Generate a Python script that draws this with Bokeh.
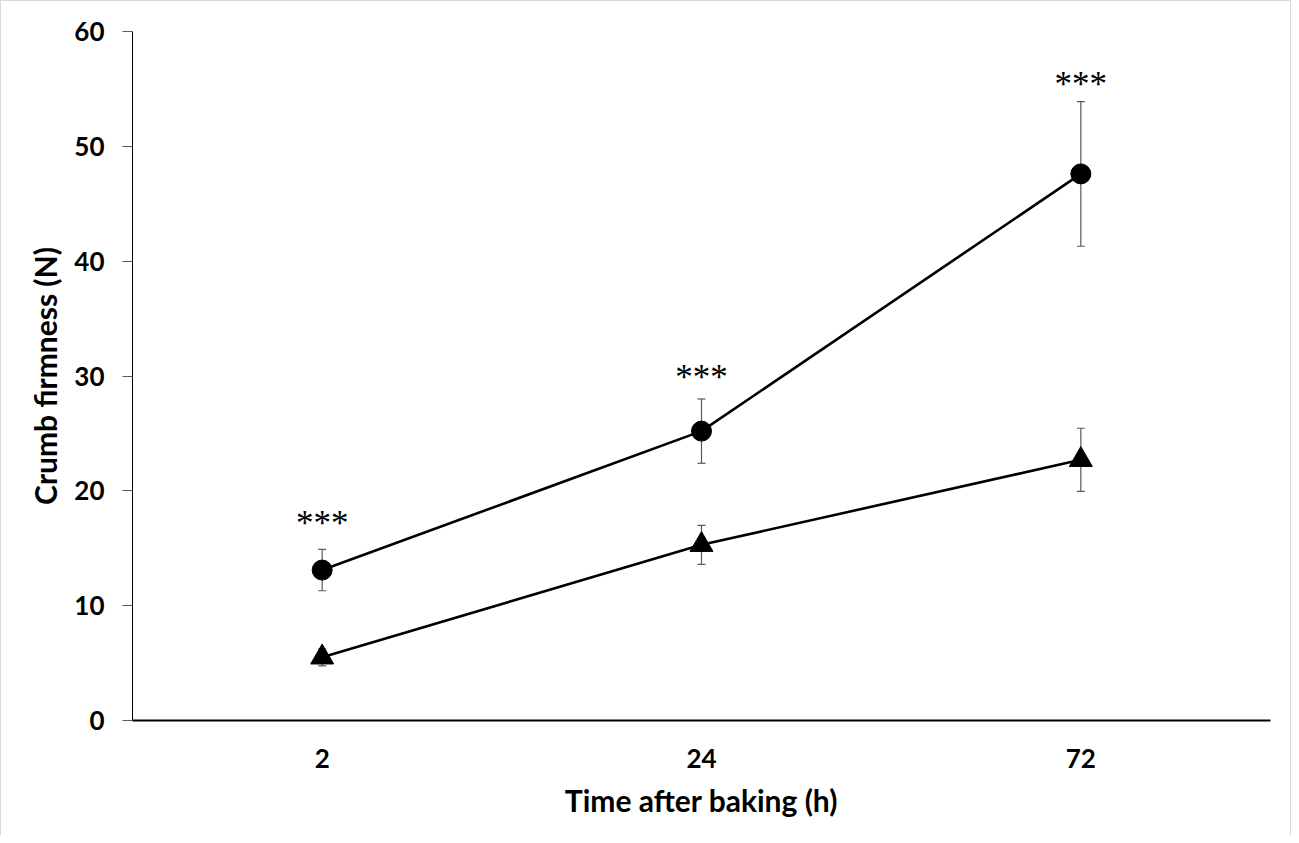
from bokeh.plotting import figure
from bokeh.models import ColumnDataSource, Whisker, TeeHead, FactorRange, FixedTicker
from bokeh.core.properties import value
from bokeh.embed import file_html
from bokeh.resources import INLINE

# ---- data ----
times = ["2", "24", "72"]
firm_circle = [13.1, 25.2, 47.6]
err_circle = [1.8, 2.8, 6.3]
firm_triangle = [5.5, 15.3, 22.7]
err_triangle = [0.75, 1.7, 2.75]
star_labels = ["***", "***", "***"]
star_y = [17.5, 30.2, 55.7]
y_ticks = [0, 10, 20, 30, 40, 50, 60]

FONT = "Lato"

src_c = ColumnDataSource(dict(
    x=times, y=firm_circle,
    upper=[v + e for v, e in zip(firm_circle, err_circle)],
    lower=[v - e for v, e in zip(firm_circle, err_circle)],
))
src_t = ColumnDataSource(dict(
    x=times, y=firm_triangle,
    upper=[v + e for v, e in zip(firm_triangle, err_triangle)],
    lower=[v - e for v, e in zip(firm_triangle, err_triangle)],
))
src_s = ColumnDataSource(dict(x=times, y=star_y, text=star_labels))

p = figure(
    width=1291, height=835,
    x_range=FactorRange(factors=times, range_padding=0),
    y_range=(0, 60),
    output_backend="svg", toolbar_location=None,
    min_border_left=131, min_border_right=22,
    min_border_top=30, min_border_bottom=116,
    background_fill_color="white", border_fill_color="white",
)
p.styles = {"border-left": "1px solid #d9d9d9", "border-top": "1px solid #d9d9d9",
            "border-right": "1px solid #d9d9d9"}
p.outline_line_color = None
p.xgrid.visible = False
p.ygrid.visible = False

# error bars (behind markers)
for src in (src_c, src_t):
    w = Whisker(source=src, base="x", upper="upper", lower="lower",
                line_color="#595959", line_width=1.2, level="underlay",
                upper_head=TeeHead(size=8, line_color="#595959", line_width=1.2),
                lower_head=TeeHead(size=8, line_color="#595959", line_width=1.2))
    p.add_layout(w)

p.line("x", "y", source=src_c, line_color="black", line_width=2.6)
p.scatter("x", "y", source=src_c, marker="circle", size=20,
          fill_color="black", line_color="black")
p.line("x", "y", source=src_t, line_color="black", line_width=2.6)
p.scatter("x", "y", source=src_t, marker="triangle", size=23,
          fill_color="black", line_color="black")

p.text("x", "y", text="text", source=src_s, text_align="center",
       text_baseline="middle", text_font=value("Liberation Serif"),
       text_font_size="35px", text_color="black", y_offset=4)

# axes
xa = p.xaxis[0]
xa.axis_label = "Time after baking (h)"
xa.axis_line_color = "black"
xa.axis_line_width = 2
xa.major_tick_out = 0
xa.major_tick_in = 0
xa.minor_tick_line_color = None
xa.major_label_standoff = 28
xa.axis_label_standoff = 11
xa.major_label_text_font = FONT
xa.major_label_text_font_style = "bold"
xa.major_label_text_font_size = "26px"
xa.major_label_text_color = "black"
xa.axis_label_text_font = FONT
xa.axis_label_text_font_style = "bold"
xa.axis_label_text_font_size = "30px"
xa.axis_label_text_color = "black"

ya = p.yaxis[0]
ya.axis_label = "Crumb firmness (N)"
ya.ticker = FixedTicker(ticks=y_ticks)
ya.axis_line_color = "black"
ya.axis_line_width = 1
ya.major_tick_out = 10
ya.major_tick_in = 0
ya.major_tick_line_color = "#595959"
ya.minor_tick_line_color = None
ya.major_label_standoff = 18
ya.axis_label_standoff = 8
ya.major_label_text_font = FONT
ya.major_label_text_font_style = "bold"
ya.major_label_text_font_size = "26px"
ya.major_label_text_color = "black"
ya.axis_label_text_font = FONT
ya.axis_label_text_font_style = "bold"
ya.axis_label_text_font_size = "30px"
ya.axis_label_text_color = "black"

open("out.html", "w").write(file_html(p, INLINE))
